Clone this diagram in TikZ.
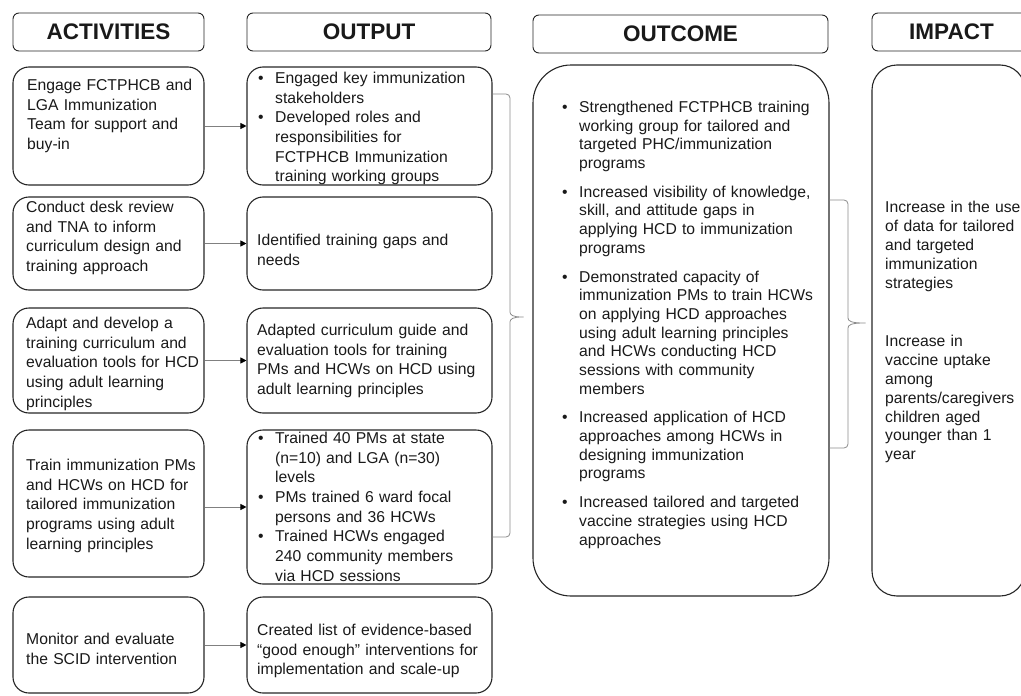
\documentclass[tikz,border=0pt]{standalone}
\usepackage{fontspec}
\setmainfont{Liberation Sans}
\usetikzlibrary{arrows.meta}
\newlength\bulind
\setlength\bulind{17pt}
\newcommand\bul[1]{\par\rightskip=0pt plus 1fil\hangindent=\bulind\hangafter=1\noindent\makebox[\bulind][l]{\textbullet}\strut#1\par}
\begin{document}
\begin{tikzpicture}[x=1pt,y=-1pt,
  hbox/.style={draw=black!85, line width=0.9pt, rounded corners=6pt, inner sep=0pt,
    font=\fontsize{22.5}{26}\selectfont\bfseries, text=black!90},
  abox/.style={draw=black!85, line width=1.1pt, rounded corners=16pt, inner sep=0pt},
  bigbox/.style={draw=black!85, line width=1.1pt, inner sep=0pt},
  txt/.style={anchor=north west, inner sep=0pt, align=left, text=black!90,
    font=\fontsize{15.7}{19.7}\selectfont},
  otxt/.style={anchor=north west, inner sep=0pt, align=left, text=black!90,
    font=\fontsize{15.7}{18.7}\selectfont},
  itxt/.style={anchor=north west, inner sep=0pt, align=left, text=black!90,
    font=\fontsize{15.7}{18.8}\selectfont},
  arr/.style={draw=black!50, line width=0.8pt, -{Triangle[length=6pt,width=6pt,color=black]}},
  brace/.style={draw=black!45, line width=0.8pt, rounded corners=4pt},
]
\useasboundingbox (0,0) rectangle (1021,696);
\clip (0,0) rectangle (1021,696);

% headers
\node[hbox, minimum width=191pt, minimum height=38pt] (hact) at (108.5,32) {ACTIVITIES};
\node[hbox, minimum width=244pt, minimum height=38pt] (hout) at (369,32) {OUTPUT};
\node[hbox, minimum width=295pt, minimum height=38pt] (hoc) at (680.5,34) {OUTCOME};
\node[hbox, minimum width=159pt, minimum height=38pt] (himp) at (951.5,32) {IMPACT};

% activity boxes
\node[abox, minimum width=191pt, minimum height=118pt] (a1) at (108.5,126) {};
\node[abox, minimum width=191pt, minimum height=93pt] (a2) at (108.5,243.5) {};
\node[abox, minimum width=191pt, minimum height=105pt] (a3) at (108.5,360.5) {};
\node[abox, minimum width=191pt, minimum height=147pt] (a4) at (108.5,503.5) {};
\node[abox, minimum width=191pt, minimum height=96pt] (a5) at (108.5,645) {};

% output boxes
\node[abox, minimum width=245pt, minimum height=118pt] (o1) at (369.5,126) {};
\node[abox, minimum width=245pt, minimum height=93pt] (o2) at (369.5,243.5) {};
\node[abox, minimum width=245pt, minimum height=105pt] (o3) at (369.5,360.5) {};
\node[abox, minimum width=245pt, minimum height=154pt] (o4) at (369.5,507) {};
\node[abox, minimum width=245pt, minimum height=96pt] (o5) at (369.5,645) {};

% outcome and impact boxes
\node[bigbox, rounded corners=38pt, minimum width=296pt, minimum height=531pt] (oc) at (681,330.5) {};
\node[bigbox, rounded corners=25pt, minimum width=153pt, minimum height=531pt] (im) at (948.5,330.5) {};

% activity texts
\node[txt, text width=185pt] (a1t) at (27,76.5) {\strut Engage FCTPHCB and\\LGA Immunization\\Team for support and\\buy-in};
\node[txt, text width=185pt] (a2t) at (26,198.5) {\strut Conduct desk review\\and TNA to inform\\curriculum design and\\training approach};
\node[txt, text width=185pt] (a3t) at (26,314.5) {\strut Adapt and develop a\\training curriculum and\\evaluation tools for HCD\\using adult learning\\principles};
\node[txt, text width=185pt] (a4t) at (26,456.5) {\strut Train immunization PMs\\and HCWs on HCD for\\tailored immunization\\programs using adult\\learning principles};
\node[txt, text width=185pt] (a5t) at (26,630.5) {\strut Monitor and evaluate\\the SCID intervention};

% output texts
\node[txt, text width=235pt] (o1t) at (258,63.5) {\bul{Engaged key immunization\break stakeholders}\bul{Developed roles and\break responsibilities for\break FCTPHCB Immunization\break training working groups}};
\node[txt, text width=235pt] (o2t) at (257,231.5) {\strut Identified training gaps and\\needs};
\node[txt, text width=235pt] (o3t) at (257,321.5) {\strut Adapted curriculum guide and\\evaluation tools for training\\PMs and HCWs on HCD using\\adult learning principles};
\node[txt, text width=235pt] (o4t) at (258,423.5) {\bul{Trained 40 PMs at state\break (n=10) and LGA (n=30)\break levels}\bul{PMs trained 6 ward focal\break persons and 36 HCWs}\bul{Trained HCWs engaged\break 240 community members\break via HCD sessions}};
\node[txt, text width=235pt] (o5t) at (257,621.5) {\strut Created list of evidence-based\\“good enough” interventions for\\implementation and scale-up};

% outcome text
\node[otxt, text width=262pt] (oct) at (562,93.5) {%
\bul{Strengthened FCTPHCB training\break working group for tailored and\break targeted PHC/immunization\break programs}\vspace{10pt}%
\bul{Increased visibility of knowledge,\break skill, and attitude gaps in\break applying HCD to immunization\break programs}\vspace{10pt}%
\bul{Demonstrated capacity of\break immunization PMs to train HCWs\break on applying HCD approaches\break using adult learning principles\break and HCWs conducting HCD\break sessions with community\break members}\vspace{10pt}%
\bul{Increased application of HCD\break approaches among HCWs in\break designing immunization\break programs}\vspace{10pt}%
\bul{Increased tailored and targeted\break vaccine strategies using HCD\break approaches}};

% impact texts
\node[itxt, text width=140pt] (im1) at (885,199.5) {\strut Increase in the use\\of data for tailored\\and targeted\\immunization\\strategies};
\node[itxt, text width=140pt] (im2) at (885,333.5) {\strut Increase in\\vaccine uptake\\among\\parents/caregivers\\children aged\\younger than 1\\year};

% arrows
\draw[arr] (a1.east) -- (o1.west);
\draw[arr] (a2.east) -- (o2.west);
\draw[arr] (a3.east) -- (o3.west);
\draw[arr] (a4.east |- o4.west) -- (o4.west);
\draw[arr] (a5.east) -- (o5.west);

% brace from outputs to outcome
\coordinate (b1top) at (510,94);
\coordinate (b1bot) at (510,537);
\coordinate (b1tip) at (526,317);
\draw[brace] (b1top -| o1.east) -- (b1top) -- (510,308)
  .. controls (510,315) and (513,317) .. (b1tip)
  .. controls (513,317) and (510,319) .. (510,326)
  -- (b1bot) -- (b1bot -| o4.east);

% brace from outcome to impact
\coordinate (b2top) at (848,200);
\coordinate (b2bot) at (848,448);
\coordinate (b2tip) at (868,323);
\draw[brace] (b2top -| oc.east) -- (b2top) -- (848,314)
  .. controls (848,321) and (851,323) .. (b2tip)
  .. controls (851,323) and (848,325) .. (848,332)
  -- (b2bot) -- (b2bot -| oc.east);
\end{tikzpicture}
\end{document}
